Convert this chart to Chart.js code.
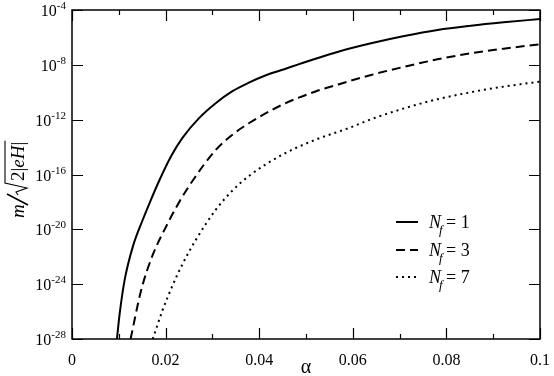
<!DOCTYPE html>
<html>
<head>
<meta charset="utf-8">
<script src="https://cdn.jsdelivr.net/npm/chart.js@4.4.1/dist/chart.umd.min.js"></script>
<style>
  html, body { margin: 0; padding: 0; background: #fff; }
  #wrap { width: 554px; height: 376px; }
</style>
</head>
<body>
<div id="wrap"><canvas id="massChart"></canvas></div>
<script>
// Values (alpha, log10 of m/sqrt(2|eH|))
const alphaN1 = [0.0096, 0.0102, 0.01125, 0.0130, 0.0151, 0.01655, 0.0187, 0.0212, 0.0236, 0.0272, 0.0307, 0.0342, 0.0378, 0.0413, 0.0448, 0.0512, 0.0569, 0.0639, 0.0710, 0.0781, 0.0852, 0.0922, 0.1];
const log10MassN1 = [-28, -26.12, -23.69, -21.26, -19.32, -18.1, -16.4, -14.65, -13.33, -11.87, -10.8, -9.94, -9.3, -8.78, -8.38, -7.65, -7.04, -6.43, -5.9, -5.46, -5.15, -4.9, -4.66];

const alphaN3 = [0.01252, 0.01479, 0.01725, 0.02009, 0.02292, 0.02574, 0.0307, 0.0342, 0.0378, 0.0448, 0.0519, 0.0569, 0.0639, 0.0710, 0.0781, 0.0852, 0.0922, 0.1];
const log10MassN3 = [-28, -24.42, -21.87, -19.81, -18.0, -16.47, -14.21, -13.12, -12.26, -10.93, -9.96, -9.43, -8.74, -8.14, -7.6, -7.16, -6.82, -6.5];

const alphaN7 = [0.01725, 0.01937, 0.02149, 0.02362, 0.02646, 0.0307, 0.0342, 0.0378, 0.0448, 0.0519, 0.0590, 0.0639, 0.0710, 0.0781, 0.0852, 0.0922, 0.1];
const log10MassN7 = [-28, -25.88, -24.09, -22.53, -20.77, -18.58, -17.2, -16.11, -14.58, -13.48, -12.63, -11.97, -11.17, -10.51, -10.0, -9.59, -9.23];

const flavours = [1, 3, 7];
const xMajorTicks = [0, 0.02, 0.04, 0.06, 0.08, 0.1];
const xMinorTicks = [0.01, 0.03, 0.05, 0.07, 0.09];
const yTickExponents = [-28, -24, -20, -16, -12, -8, -4];

const SERIF = '"Liberation Serif", "Times New Roman", serif';

function toPoints(xs, logs) {
    return xs.map((x, i) => ({ x: x, y: Math.pow(10, logs[i]) }));
}

const dashStyles = [[], [9, 5], [2, 4]];

// frame, inward ticks, y labels with exponents, axis titles, legend
const decorations = {
    id: 'decorations',
    afterDraw(chart) {
        const ctx = chart.ctx;
        const a = chart.chartArea;
        const xs = chart.scales.x;
        const ys = chart.scales.y;
        ctx.save();
        ctx.strokeStyle = '#000';
        ctx.fillStyle = '#000';
        ctx.lineWidth = 1.5;
        ctx.strokeRect(a.left, a.top, a.right - a.left, a.bottom - a.top);

        ctx.lineWidth = 1.2;
        ctx.beginPath();
        xMajorTicks.forEach(v => {
            const px = Math.round(xs.getPixelForValue(v)) + 0.5;
            ctx.moveTo(px, a.bottom); ctx.lineTo(px, a.bottom - 11);
            ctx.moveTo(px, a.top); ctx.lineTo(px, a.top + 11);
        });
        xMinorTicks.forEach(v => {
            const px = Math.round(xs.getPixelForValue(v)) + 0.5;
            ctx.moveTo(px, a.bottom); ctx.lineTo(px, a.bottom - 5);
            ctx.moveTo(px, a.top); ctx.lineTo(px, a.top + 5);
        });
        yTickExponents.forEach(e => {
            const py = Math.round(ys.getPixelForValue(Math.pow(10, e))) + 0.5;
            ctx.moveTo(a.left, py); ctx.lineTo(a.left + 11, py);
            ctx.moveTo(a.right, py); ctx.lineTo(a.right - 11, py);
        });
        ctx.stroke();

        // y tick labels: 10 with superscript exponent
        ctx.textBaseline = 'alphabetic';
        yTickExponents.forEach(e => {
            const py = ys.getPixelForValue(Math.pow(10, e));
            const expText = String(e);
            ctx.font = '11px ' + SERIF;
            const ew = ctx.measureText(expText).width;
            const right = a.left - 6;
            ctx.textAlign = 'left';
            ctx.fillText(expText, right - ew, py - 1);
            ctx.font = '16px ' + SERIF;
            ctx.textAlign = 'right';
            ctx.fillText('10', right - ew, py + 6);
        });

        // x axis title
        ctx.font = '20px ' + SERIF;
        ctx.textAlign = 'center';
        ctx.fillText('\u03b1', (a.left + a.right) / 2, 373);

        // y axis title m / sqrt(2|eH|)
        ctx.save();
        ctx.translate(24, 218);
        ctx.rotate(-Math.PI / 2);
        ctx.textAlign = 'left';
        ctx.font = 'italic 19px ' + SERIF;
        ctx.fillText('m', 0, 0);
        ctx.lineWidth = 1.6;
        ctx.beginPath();
        ctx.moveTo(13, 4); ctx.lineTo(24, -17);
        ctx.stroke();
        ctx.lineWidth = 1.1;
        ctx.beginPath();
        ctx.moveTo(23, -6); ctx.lineTo(26, -8); ctx.lineTo(30, 3); ctx.lineTo(35, -19);
        let tx = 37;
        ctx.font = '19px ' + SERIF;
        ctx.fillText('2|', tx, 0); tx += ctx.measureText('2|').width;
        ctx.font = 'italic 19px ' + SERIF;
        ctx.fillText('eH', tx, 0); tx += ctx.measureText('eH').width;
        ctx.font = '19px ' + SERIF;
        ctx.fillText('|', tx, 0); tx += ctx.measureText('|').width;
        ctx.lineTo(tx + 1, -19);
        ctx.stroke();
        ctx.restore();

        // legend
        const legendY = [222, 250, 277];
        flavours.forEach((nf, i) => {
            const y = legendY[i];
            ctx.lineWidth = 2;
            ctx.setLineDash(dashStyles[i]);
            ctx.beginPath();
            ctx.moveTo(396, y); ctx.lineTo(418, y);
            ctx.stroke();
            ctx.setLineDash([]);
            ctx.textAlign = 'left';
            ctx.font = 'italic 18px ' + SERIF;
            ctx.fillText('N', 429, y + 6);
            ctx.font = 'italic 13px ' + SERIF;
            ctx.fillText('f', 439, y + 12);
            ctx.font = '18px ' + SERIF;
            ctx.fillText('= ' + nf, 446, y + 6);
        });
        ctx.restore();
    }
};

const ctx = document.getElementById('massChart').getContext('2d');
new Chart(ctx, {
    type: 'line',
    data: {
        datasets: [
            { label: 'N_f = 1', data: toPoints(alphaN1, log10MassN1), borderDash: dashStyles[0] },
            { label: 'N_f = 3', data: toPoints(alphaN3, log10MassN3), borderDash: dashStyles[1] },
            { label: 'N_f = 7', data: toPoints(alphaN7, log10MassN7), borderDash: dashStyles[2] }
        ].map(ds => Object.assign(ds, {
            borderColor: '#000',
            borderWidth: 2,
            pointRadius: 0,
            fill: false,
            cubicInterpolationMode: 'monotone'
        }))
    },
    options: {
        responsive: true,
        maintainAspectRatio: false,
        animation: false,
        layout: { padding: { top: 10, right: 11, left: 0, bottom: 0 } },
        plugins: { legend: { display: false }, tooltip: { enabled: false } },
        scales: {
            x: {
                type: 'linear',
                min: 0,
                max: 0.1,
                grid: { display: false },
                border: { display: false },
                ticks: {
                    stepSize: 0.02,
                    padding: 4,
                    color: '#000',
                    font: { family: SERIF, size: 16 },
                    maxRotation: 0,
                    callback: v => v === 0 ? '0' : (Math.abs(v - 0.1) < 1e-9 ? '0.1' : v.toFixed(2))
                },
                afterFit: s => { s.height = 37; }
            },
            y: {
                type: 'logarithmic',
                min: 1e-28,
                max: 1e-4,
                grid: { display: false },
                border: { display: false },
                ticks: { display: false },
                afterFit: s => { s.width = 72; }
            }
        }
    },
    plugins: [decorations]
});
</script>
</body>
</html>
